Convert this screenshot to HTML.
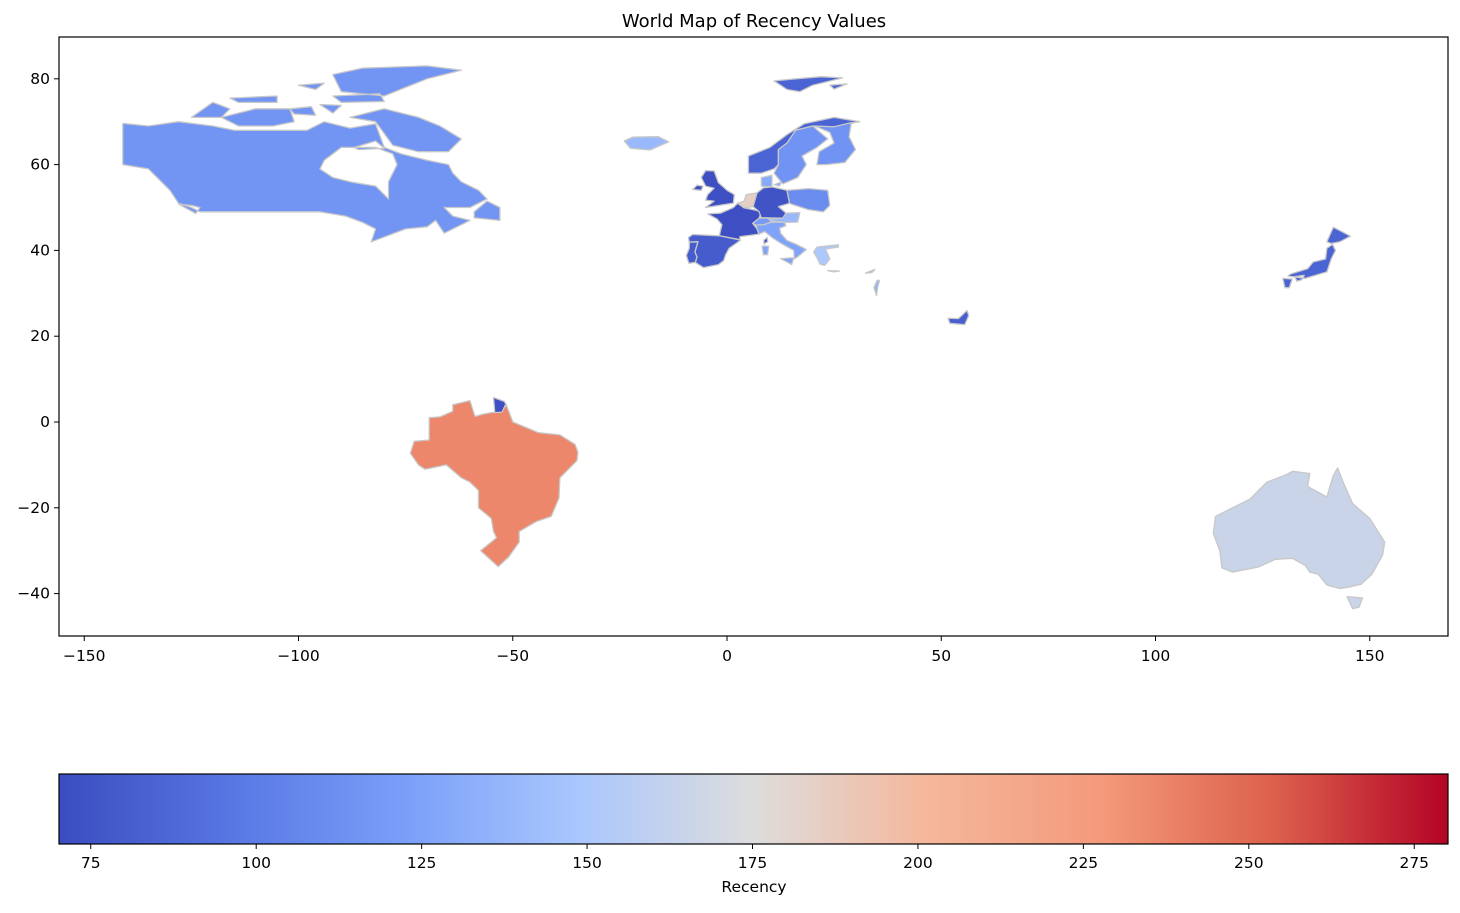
<!DOCTYPE html>
<html><head><meta charset="utf-8"><style>
body{margin:0;background:#fff;font-family:"Liberation Sans","DejaVu Sans",sans-serif}
svg text{font-family:"DejaVu Sans","Liberation Sans",sans-serif;fill:#000}
</style></head><body>
<svg id="chart" width="1460" height="908" viewBox="0 0 1460 908" xmlns="http://www.w3.org/2000/svg">
<defs><linearGradient id="cw" x1="0" x2="1" y1="0" y2="0"></linearGradient>
<clipPath id="axclip"><rect x="59" y="37" width="1389" height="599"/></clipPath></defs>
<text x="754" y="27" text-anchor="middle" font-size="18">World Map of Recency Values</text>
<g id="map" clip-path="url(#axclip)"></g>
<rect x="59" y="37" width="1389" height="599" fill="none" stroke="#000" stroke-width="1.2"/>
<g id="xticks"></g>
<g id="yticks"></g>
<rect id="cbar" x="59" y="774" width="1389" height="70" fill="url(#cw)" stroke="#000" stroke-width="1.2"/>
<g id="cticks"></g>
<text x="754" y="892" text-anchor="middle" font-size="15.5">Recency</text>
</svg>
<script>
const xTicks=[-150,-100,-50,0,50,100,150];
const yTicks=[80,60,40,20,0,-20,-40];
const cTicks=[75,100,125,150,175,200,225,250,275];
const countries=["Canada","Brazil","Australia","Norway","Sweden","Finland","Denmark","United Kingdom","France","Spain","Portugal","Benelux","Germany","Poland","Switzerland","Austria","Italy","Greece","Cyprus","Israel","Iceland","UAE","Japan"];
const recency=[116,236,165,85,115,115,130,72,72,80,80,185,75,110,120,140,125,150,140,135,140,82,85];
const vmin=70.2, vmax=280.1;
const shapes={
"Canada":[
[[-141,69.6],[-135,69],[-128,70],[-120,69],[-115,68],[-108,68],[-98,68],[-94,70],[-88,68.5],[-82,69.5],[-80,64],[-76,62.5],[-70,61],[-65,60],[-64,58],[-62,56],[-58,54],[-56,52],[-60,50],[-66,50],[-64,48],[-60,47],[-64,45],[-66,44],[-68,47],[-70,45.5],[-75,45],[-79,43.5],[-83,42],[-82,45],[-85,46.5],[-89,48],[-95,49],[-123,49],[-125,50],[-128,51],[-130,54],[-131,55],[-135,59],[-141,60]],
[[-80,73],[-72,71],[-67,69],[-62,66],[-65,63],[-72,63],[-78,64.5],[-82,70],[-88,71]],
[[-90,77],[-80,76],[-75,78],[-70,80],[-62,82],[-70,83],[-85,82.5],[-92,81]],
[[-118,71],[-110,73],[-102,73],[-101,70],[-106,69],[-114,69]],
[[-125,71],[-120,74.5],[-116,73],[-118,71]],
[[-92,76],[-81,76.5],[-80,74.7],[-90,74.5]],
[[-116,75.5],[-105,76],[-105,74.5],[-114,74.5]],
[[-102,73],[-97,73.5],[-96,71.5],[-101,71.8]],
[[-95,74],[-90,73.8],[-92,72]],
[[-87,64],[-82,65.5],[-80,63.8],[-86,63.5]],
[[-59,47.6],[-53,47],[-53,50],[-56,51.5],[-59,49]],
[[-100,78.5],[-94,79],[-96,77.5]],[[-123,50],[-125,50.5],[-128,50.8],[-124,48.6]]],
"Brazil":[[[-73.9,-7.3],[-72,-10],[-70.5,-11],[-65.5,-10],[-62,-13],[-60,-14],[-58,-16],[-58,-20],[-55,-22.5],[-54.5,-25.5],[-53.8,-27],[-57.5,-30],[-53.4,-33.7],[-51,-31.5],[-48.5,-28],[-48.5,-25.5],[-44.5,-23.2],[-41,-22],[-39.2,-17.7],[-39,-13],[-35,-9],[-34.8,-7],[-35.5,-5.2],[-39,-3],[-44,-2.5],[-50,0],[-51.5,4],[-52.5,2.5],[-55,2.2],[-57,1.8],[-58.8,1.3],[-60,5],[-64,4],[-64,2.5],[-67,1.2],[-69.5,1],[-69.5,-4.2],[-73,-4.5]]],
"Australia":[[[114,-22],[117,-20.5],[122,-18],[126,-14],[130,-12.5],[132,-11.5],[136,-12],[135.5,-15],[140,-17.5],[141.5,-12.5],[142.5,-10.7],[144,-14.5],[146,-19],[150,-22.5],[153.5,-28],[153,-31],[150.5,-35.5],[148,-37.8],[145,-38.5],[143,-38.8],[140,-38],[138,-35.5],[136,-35],[135,-33.5],[132,-31.8],[128,-32],[124,-33.8],[118,-35],[115.5,-34],[115,-30],[113.5,-26]],[[144.7,-40.7],[148.3,-41],[147.5,-43.2],[146,-43.5]]],
"Norway":[[[5,58],[5,62],[10,64],[14,67],[18,69.5],[25,71],[31,70],[28,69.5],[25,68.5],[20,69],[16,68],[14,65],[12,63.5],[12,60],[11,59],[8,58]],[[11,79.5],[16,80],[22,80.5],[27,80.2],[20,78.5],[17,77],[14,77.5]],[[24,78.5],[28,78.8],[25,77.6]]],
"Sweden":[[[11,58],[12,60],[12,63.5],[14,65],[16,68],[20,69],[23.5,66],[21,64],[17.5,62],[18.5,60],[16.5,57],[13,55.5]]],
"Finland":[[[21,60],[21.5,63],[25,65],[24,67.5],[20.5,69],[25,68.8],[29,69.8],[28.5,66.5],[30,63.5],[27.5,60.5],[23,60]]],
"Denmark":[[[8,55],[8,57],[10.5,57.5],[10.5,55],[9.5,54.8]],[[11,55.3],[12.6,56],[12.3,55]]],
"United Kingdom":[[[-5,50],[1.5,51],[1.7,53],[0,54],[-2,55.8],[-3,58.5],[-5,58.6],[-6,57],[-5,55],[-3,54.5],[-4.5,53],[-5,51.7],[-3,51.5]],[[-8,54.2],[-6,54],[-5.6,55],[-7,55.2]]],
"France":[[[-4.5,48.5],[-1.5,48.7],[1.5,50],[2.5,51],[4,49.9],[6.1,49.5],[8,49],[7.5,47.5],[6,46.3],[7,45],[7.5,43.8],[3,43.2],[3,42.5],[-1.8,43.4],[-1.2,46],[-2.3,47.3]],[[8.6,41.5],[9.5,42],[9.4,43],[8.6,42.4]],[[-54.5,5.7],[-52,4.8],[-51.6,4.2],[-52.5,2.3],[-54.2,2.2]]],
"Spain":[[[-9,43],[-8,43.7],[-1.8,43.4],[3.2,42.4],[0.5,40.5],[-0.3,39],[-0.8,37.6],[-2,36.7],[-5.5,36],[-7.4,37.2],[-7,38.5],[-7.5,39.6],[-6.8,42],[-8.8,41.9]]],
"Portugal":[[[-8.8,41.9],[-6.8,42],[-7.5,39.6],[-7,38.5],[-7.4,37.2],[-8.9,37],[-9.5,38.8],[-8.8,40.5]]],
"Benelux":[[[2.5,51],[4,51.5],[4.5,53],[7,53.4],[6.1,50.2],[4,49.9]]],
"Germany":[[[7,53.4],[8.5,54.6],[10.5,54.8],[14,54],[14.6,51],[12,50.2],[13.8,48.7],[13,47.5],[8,47.6],[7.5,49],[6.1,50.2]]],
"Poland":[[[14,54],[19,54.4],[23.5,54],[24,50.5],[22.5,49],[19,49.5],[15,50.8],[14.6,51]]],
"Switzerland":[[[6,46.3],[7.5,47.5],[9.5,47.6],[10.4,46.6],[8.5,46],[6.8,45.9]]],
"Austria":[[[9.6,47.4],[13,47.5],[13.8,48.7],[17,48.8],[16.5,46.6],[13.5,46.5],[10.4,46.9]]],
"Italy":[[[6.8,45.9],[8.5,46],[10.4,46.6],[13.5,46.5],[13.7,45.7],[12.3,45.2],[12.5,44],[14,42.3],[16,41.5],[18.5,40.2],[16.5,38.5],[15.7,38],[15.6,40],[12.5,41.7],[10.5,43],[8.8,44.4],[7.5,43.8],[7,45]],[[12.5,38.1],[15.6,38.3],[15.1,36.7]],[[8.2,41],[9.7,41],[9.5,39],[8.5,39]]],
"Greece":[[[20.2,39.6],[21,40.8],[26,41.3],[26,40.8],[23,40.3],[24,38],[22.8,36.5],[21.7,36.8],[21,38.3]],[[23.5,35.3],[26.3,35.2],[25,35]]],
"Cyprus":[[[32.3,34.7],[34.5,35.6],[33.8,34.8]]],
"Israel":[[[34.3,31.3],[35,33],[35.6,33],[35.2,31.5],[34.9,29.5]]],
"Iceland":[[[-24,65.5],[-22,66.4],[-16,66.5],[-13.6,65.3],[-18,63.4],[-22.5,63.8]]],
"UAE":[[[51.6,24.2],[54,24.1],[56,26],[56.4,24.8],[55.5,22.7],[52,23]]],
"Japan":[[[130.9,34],[135,33.5],[140,35],[141,38],[142,40],[141.3,41.4],[140,40.5],[139.7,38],[136.8,37.3],[135.5,35.7],[131.5,34.5]],[[129.7,33.5],[131.9,33.3],[131.2,31.3],[130.2,31.3]],[[132.5,33.9],[134.7,34.2],[134.2,33.2],[133,32.8]],[[140,42],[141.5,45.4],[145.5,43.3],[143,42],[141,41.6]]]
};
const holes={"Canada":[[[-95,59],[-92,57],[-88,56],[-82,55],[-79,52],[-79,56],[-77,60],[-78,62.5],[-82,64],[-86,64],[-90,64],[-94,61]]]};
const cmStops=[[0,[59,76,192]],[0.125,[88,119,227]],[0.25,[123,159,249]],[0.375,[170,199,253]],[0.5,[221,221,221]],[0.625,[245,183,155]],[0.75,[244,154,123]],[0.875,[220,96,76]],[1,[180,4,38]]];
const NS="http://www.w3.org/2000/svg";
const X=lon=>727+lon*4.285, Y=lat=>422-lat*4.29;
const C=v=>59+(v-vmin)/(vmax-vmin)*1389;
function cmap(t){t=Math.max(0,Math.min(1,t));for(let i=1;i<cmStops.length;i++){if(t<=cmStops[i][0]){const a=cmStops[i-1],b=cmStops[i],f=(t-a[0])/(b[0]-a[0]);return 'rgb('+a[1].map((c,k)=>Math.round(c+(b[1][k]-c)*f)).join(',')+')';}}}
const grad=document.getElementById('cw');
cmStops.forEach(s=>{const st=document.createElementNS(NS,'stop');st.setAttribute('offset',s[0]);st.setAttribute('stop-color','rgb('+s[1].join(',')+')');grad.appendChild(st);});
const ring=r=>'M'+r.map(p=>X(p[0]).toFixed(1)+','+Y(p[1]).toFixed(1)).join('L')+'Z';
const map=document.getElementById('map');
countries.forEach((name,i)=>{
 const p=document.createElementNS(NS,'path');
 let d=shapes[name].map(ring).join('');
 if(holes[name]) d+=holes[name].map(ring).join('');
 p.setAttribute('d',d);p.setAttribute('fill',cmap((recency[i]-vmin)/(vmax-vmin)));
 p.setAttribute('fill-rule','evenodd');p.setAttribute('stroke','#c8c8c8');p.setAttribute('stroke-width','1.3');p.setAttribute('stroke-linejoin','round');
 
 
 map.appendChild(p);
});
function tick(g,x1,y1,x2,y2,tx,ty,anchor,label){
 const l=document.createElementNS(NS,'line');l.setAttribute('x1',x1);l.setAttribute('y1',y1);l.setAttribute('x2',x2);l.setAttribute('y2',y2);l.setAttribute('stroke','#000');l.setAttribute('stroke-width','1');g.appendChild(l);
 const t=document.createElementNS(NS,'text');t.setAttribute('x',tx);t.setAttribute('y',ty);t.setAttribute('text-anchor',anchor);t.setAttribute('font-size','15.5');t.textContent=label;
 
 
 g.appendChild(t);
}
const gx=document.getElementById('xticks'),gy=document.getElementById('yticks'),gc=document.getElementById('cticks');
xTicks.forEach(v=>tick(gx,X(v),636,X(v),641,X(v),661,'middle',String(v).replace('-','\u2212')));
yTicks.forEach(v=>tick(gy,59,Y(v),54,Y(v),50,Y(v)+5,'end',String(v).replace('-','\u2212')));
cTicks.forEach(v=>tick(gc,C(v),844,C(v),849,C(v),868,'middle',String(v)));
</script>
</body></html>
